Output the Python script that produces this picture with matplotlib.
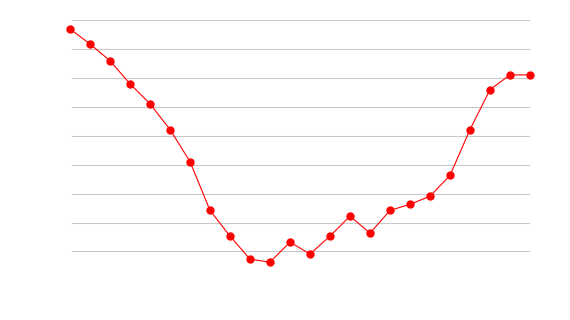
import matplotlib
matplotlib.use("Agg")
import matplotlib.pyplot as plt

x_index = list(range(24))
values = [8.70, 8.18, 7.60, 6.80, 6.11, 5.22, 4.11, 2.42, 1.53, 0.73, 0.63, 1.32,
          0.91, 1.53, 2.22, 1.63, 2.42, 2.63, 2.91, 3.63, 5.22, 6.60, 7.11, 7.11]
grid_levels = [1, 2, 3, 4, 5, 6, 7, 8, 9]

fig = plt.figure(figsize=(5.7, 3.2), dpi=100)
ax = fig.add_axes([70 / 570, (320 - 280.3) / 320, 460 / 570, (280.3 - 20.3) / 320])
ax.set_xlim(-0.0, 23.0)
ax.set_ylim(0, 9)
for g in grid_levels:
    ax.axhline(g, color="#c8c8c8", linewidth=0.8, zorder=1, xmin=0.004, xmax=1.0)
ax.plot(x_index, values, color="#ff0000", linewidth=0.8, marker="o",
        markersize=5, markerfacecolor="#ff0000", markeredgecolor="#ff0000",
        zorder=3, clip_on=False)
for s in ax.spines.values():
    s.set_visible(False)
ax.set_xticks([])
ax.set_yticks([])
fig.savefig("out.png", dpi=100)
